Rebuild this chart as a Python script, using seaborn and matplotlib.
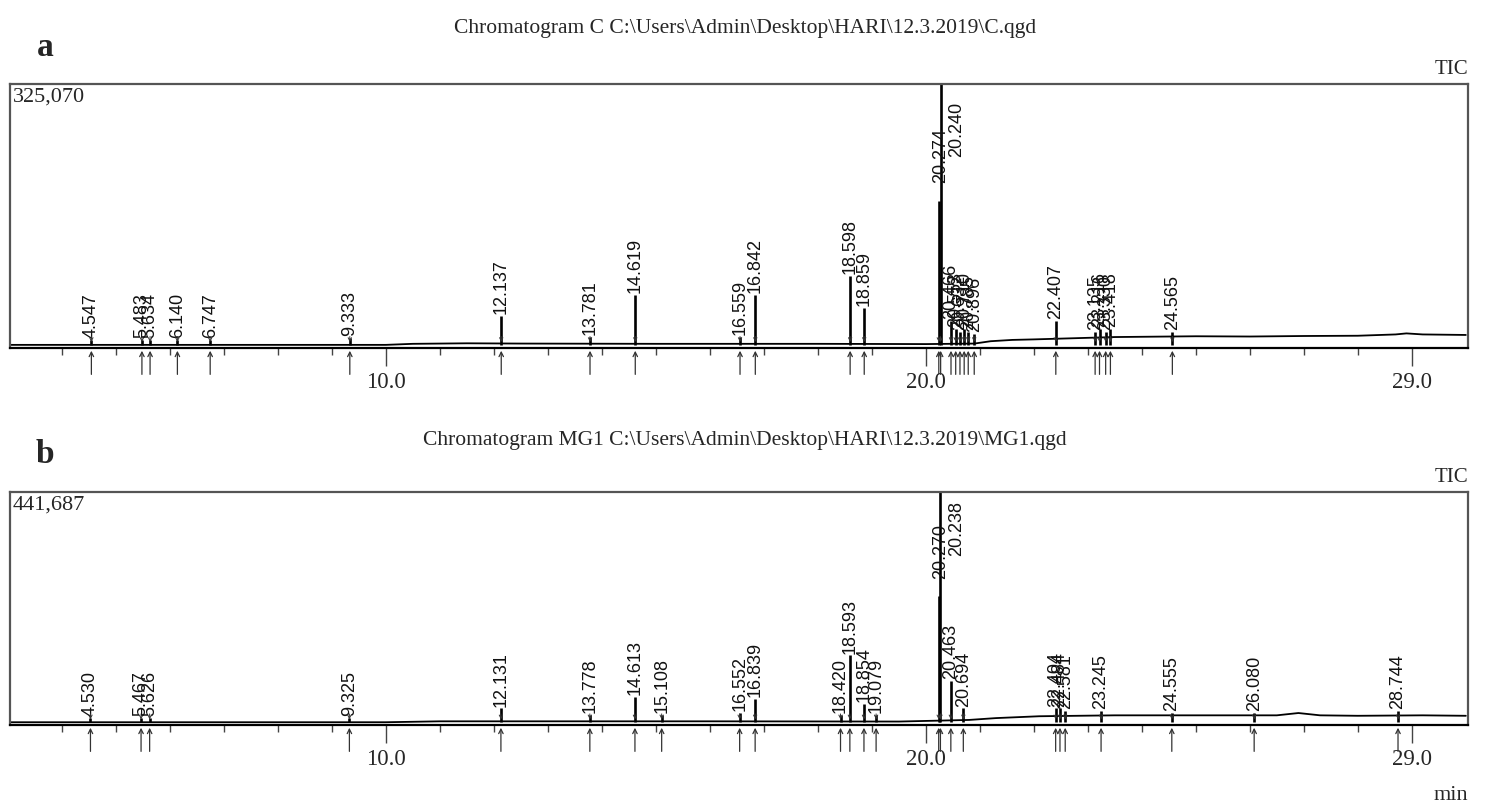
import numpy as np
import pandas as pd
import matplotlib.pyplot as plt
import seaborn as sns

# panel a : sample C  (heights as fraction of the top of scale)
times_a = [4.547, 5.483, 5.634, 6.140, 6.747, 9.333, 12.137, 13.781, 14.619,
           16.559, 16.842, 18.598, 18.859, 20.240, 20.274, 20.466, 20.553,
           20.632, 20.710, 20.785, 20.896, 22.407, 23.135, 23.216, 23.330,
           23.418, 24.565]
heights_a = [0.02, 0.02, 0.02, 0.02, 0.02, 0.025, 0.11, 0.03, 0.19,
             0.03, 0.19, 0.265, 0.14, 0.55, 1.0, 0.09, 0.06,
             0.05, 0.06, 0.05, 0.04, 0.09, 0.05, 0.06, 0.05,
             0.06, 0.05]
base_time_a = [3.0, 10.0, 10.5, 11.5, 12.5, 15.0, 18.0, 20.0, 20.9, 21.2, 21.6,
               22.0, 22.5, 23.5, 25.0, 26.0, 27.0, 28.0, 28.7, 28.9, 29.2, 30.0]
base_level_a = [0.0, 0.0, 0.004, 0.006, 0.005, 0.004, 0.004, 0.003, 0.005, 0.014,
                0.019, 0.021, 0.024, 0.03, 0.033, 0.032, 0.034, 0.035, 0.040,
                0.044, 0.04, 0.038]

# panel b : sample MG1
times_b = [4.530, 5.467, 5.626, 9.325, 12.131, 13.778, 14.613, 15.108, 16.552,
           16.839, 18.420, 18.593, 18.854, 19.079, 20.238, 20.270, 20.463,
           20.694, 22.404, 22.484, 22.581, 23.245, 24.555, 26.080, 28.744]
heights_b = [0.02, 0.02, 0.02, 0.02, 0.06, 0.03, 0.11, 0.03, 0.04,
             0.10, 0.03, 0.29, 0.08, 0.03, 0.55, 1.0, 0.18,
             0.06, 0.06, 0.06, 0.05, 0.05, 0.04, 0.04, 0.05]
base_time_b = [3.0, 10.0, 11.0, 13.0, 16.0, 19.5, 20.8, 21.3, 22.1, 23.5, 25.0,
               26.5, 26.9, 27.3, 28.0, 29.2, 30.0]
base_level_b = [0.0, 0.0, 0.004, 0.004, 0.004, 0.003, 0.01, 0.018, 0.026, 0.03,
                0.03, 0.03, 0.04, 0.03, 0.028, 0.03, 0.028]

titles = ["Chromatogram C C:\\Users\\Admin\\Desktop\\HARI\\12.3.2019\\C.qgd",
          "Chromatogram MG1 C:\\Users\\Admin\\Desktop\\HARI\\12.3.2019\\MG1.qgd"]
scale_max = ["325,070", "441,687"]
panel_tags = ["a", "b"]

sns.set_style("white")
plt.rcParams['font.family'] = ['Liberation Serif', 'DejaVu Serif']

W, H = 1487, 808
fig = plt.figure(figsize=(W / 100, H / 100), dpi=100)


def draw_panel(ax, times, heights, bt, bl, top_label):
    df = pd.DataFrame({'t': bt, 'y': bl})
    sns.lineplot(data=df, x='t', y='y', ax=ax, color='black', lw=1.3,
                 estimator=None, sort=False)
    ax.vlines(times, 0, heights, color='black', lw=1.9)
    for t, h in zip(times, heights):
        if h >= 0.9:
            x, y = t, 0.62
        elif h >= 0.5:
            x, y = t + 0.33, 0.72
        else:
            x, y = t, h + 0.008
        ax.text(x, y, f"{t:.3f}", rotation=90, ha='center', va='bottom',
                fontsize=13, family='Liberation Sans', color='#111111')
        # arrow under the baseline
        ax.annotate('', xy=(t, 0), xycoords=('data', 'axes fraction'),
                    xytext=(0, -21), textcoords='offset points',
                    arrowprops=dict(arrowstyle='->', lw=0.9, color='#333333',
                                    mutation_scale=8),
                    annotation_clip=False)
        # small marker arrow onto the peak foot
        ax.annotate('', xy=(t, 0.0), xycoords='data',
                    xytext=(0, 8), textcoords='offset points',
                    arrowprops=dict(arrowstyle='->', lw=0.7, color='#333333',
                                    mutation_scale=6),
                    annotation_clip=False)
    ax.set_xlim(3.04, 30.04)
    ax.set_ylim(-0.012, 1.0)
    ax.set_xticks([10, 20, 29])
    ax.set_xticklabels(['10.0', '20.0', '29.0'], fontsize=16.5)
    ax.set_xticks(range(4, 30), minor=True)
    ax.set_yticks([])
    ax.tick_params(axis='x', which='major', direction='out', length=13,
                   width=1.0, pad=4, color='#444444', bottom=True)
    ax.tick_params(axis='x', which='minor', direction='out', length=5,
                   width=1.0, color='#444444', bottom=True)
    ax.set_xlabel('')
    ax.set_ylabel('')
    for side in ['top', 'left', 'right']:
        ax.spines[side].set_color('#555555')
        ax.spines[side].set_linewidth(1.6)
    ax.spines['bottom'].set_color('black')
    ax.spines['bottom'].set_linewidth(1.6)
    ax.text(0.002, 0.985, top_label, transform=ax.transAxes, ha='left',
            va='top', fontsize=16)
    ax.text(1.0, 1.02, 'TIC', transform=ax.transAxes, ha='right',
            va='bottom', fontsize=15)


ax_a = fig.add_axes([10 / W, 1 - 348 / H, 1458 / W, (348 - 84) / H])
draw_panel(ax_a, times_a, heights_a, base_time_a, base_level_a, scale_max[0])
ax_b = fig.add_axes([10 / W, 1 - 725 / H, 1458 / W, (725 - 492) / H])
draw_panel(ax_b, times_b, heights_b, base_time_b, base_level_b, scale_max[1])

fig.text(745 / W, 1 - 28 / H, titles[0], ha='center', va='center', fontsize=15.5)
fig.text(745 / W, 1 - 440 / H, titles[1], ha='center', va='center', fontsize=15.5)
fig.text(45 / W, 1 - 48 / H, panel_tags[0], ha='center', va='center',
         fontsize=24, fontweight='bold')
fig.text(45 / W, 1 - 455 / H, panel_tags[1], ha='center', va='center',
         fontsize=24, fontweight='bold')
fig.text(1468 / W, 1 - 795 / H, 'min', ha='right', va='center', fontsize=16)

fig.savefig('out.png', dpi=100, facecolor='white')
